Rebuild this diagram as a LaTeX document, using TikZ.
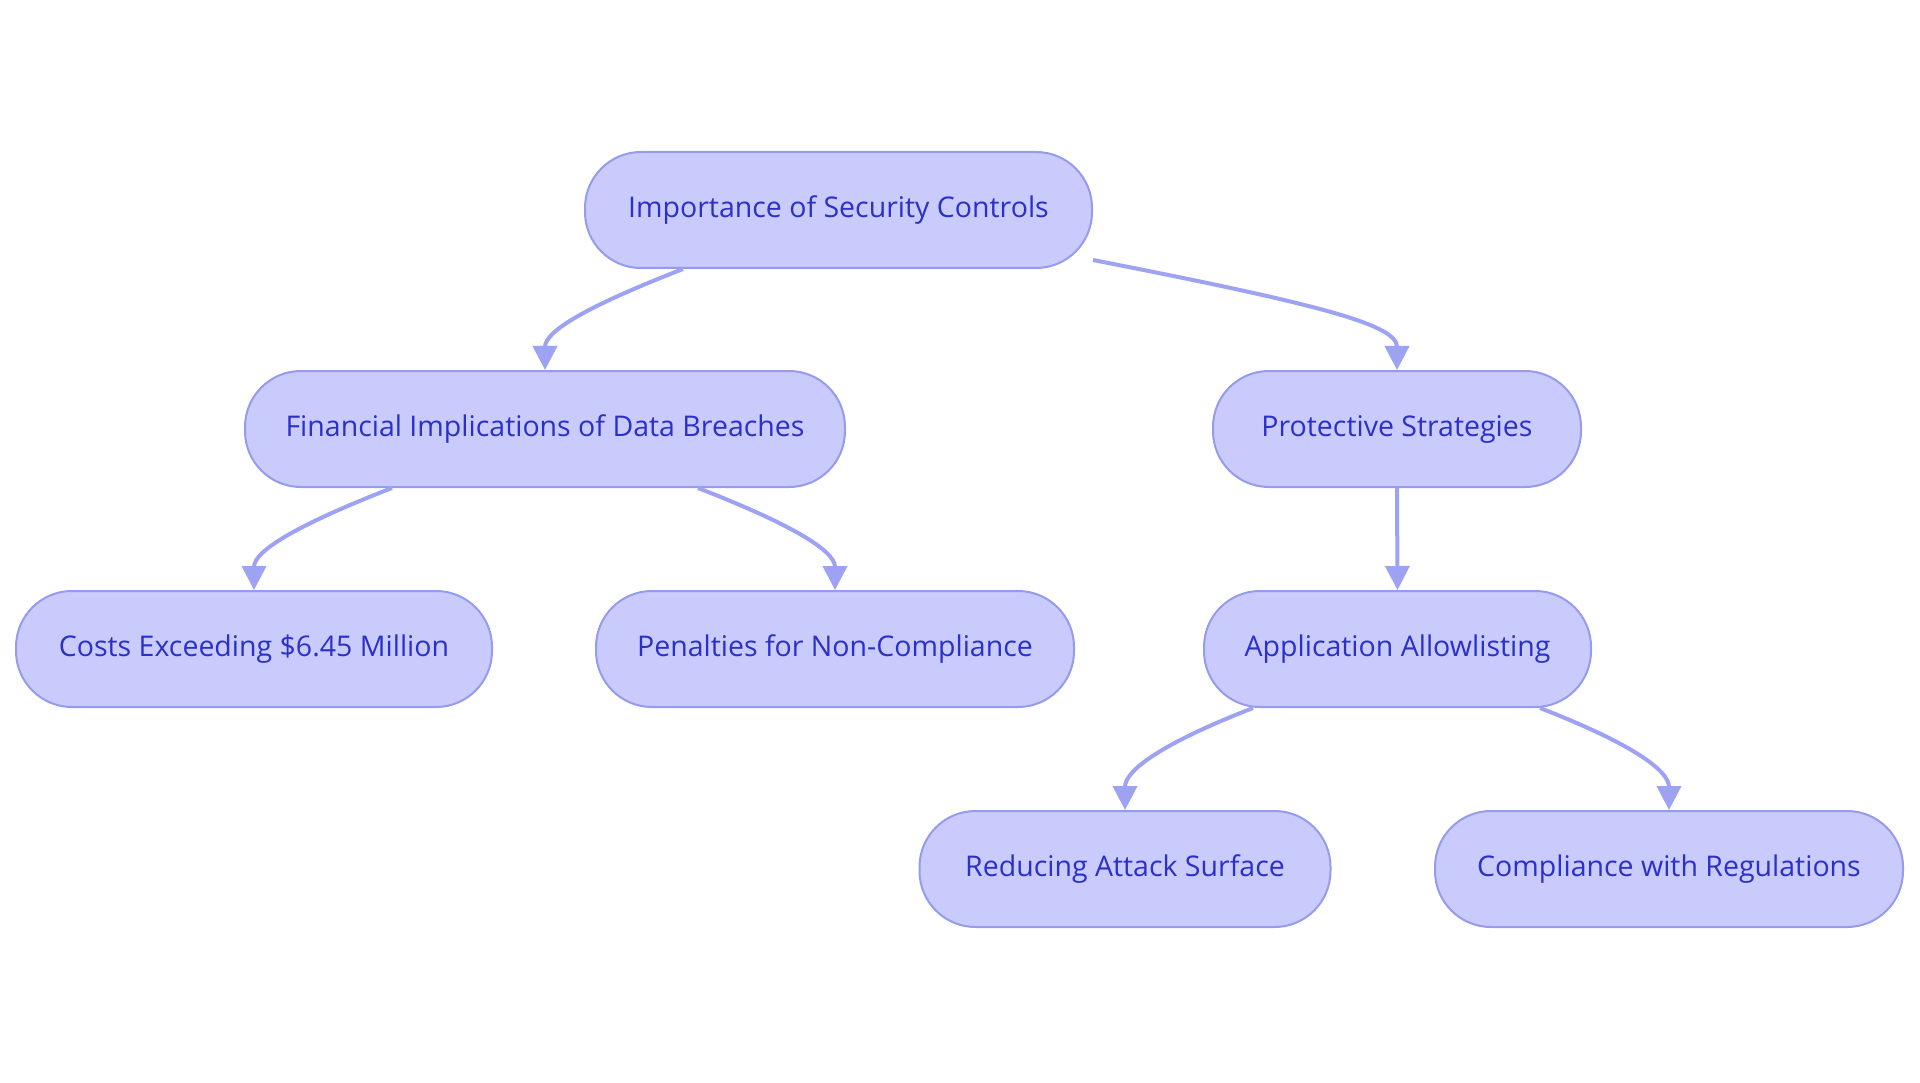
\documentclass[tikz,border=0pt]{standalone}
\usepackage{fontspec}
\setmainfont{Open Sans}
\usetikzlibrary{arrows.meta}
\definecolor{nodefill}{RGB}{200,203,252}
\definecolor{nodeborder}{RGB}{150,155,238}
\definecolor{nodetext}{RGB}{43,48,200}
\definecolor{edgecol}{RGB}{158,162,242}
\begin{document}
\begin{tikzpicture}[x=1pt,y=-1pt,
  pill/.style={draw=nodeborder, line width=2pt, fill=nodefill, rounded corners=56pt,
    minimum height=116pt, text=nodetext, font=\fontsize{28.5}{33}\selectfont, inner sep=0pt},
  link/.style={draw=edgecol, line width=4pt, -{Triangle[length=24pt,width=24pt]}}]
\useasboundingbox[fill=white] (0,0) rectangle (1920,1083);
\node[pill, minimum width=507pt] (root) at (838.5,210) {Importance of Security Controls};
\node[pill, minimum width=600pt] (fin) at (545,429) {Financial Implications of Data Breaches};
\node[pill, minimum width=368pt] (prot) at (1397,429) {Protective Strategies};
\node[pill, minimum width=476pt] (cost) at (254,649) {Costs Exceeding \$6.45 Million};
\node[pill, minimum width=478pt] (pen) at (835,649) {Penalties for Non-Compliance};
\node[pill, minimum width=387pt] (app) at (1397.5,649) {Application Allowlisting};
\node[pill, minimum width=411pt] (red) at (1125,869) {Reducing Attack Surface};
\node[pill, minimum width=468pt] (comp) at (1669,869) {Compliance with Regulations};
\draw[link] ([xshift=-155.5pt]root.south) .. controls +(-90,35) and +(0,-40) .. (fin.north);
\draw[link] ([yshift=-50pt]root.east) .. controls +(230,45) and +(0,-45) .. (prot.north);
\draw[link] ([xshift=-153pt]fin.south) .. controls +(-90,35) and +(0,-40) .. (cost.north);
\draw[link] ([xshift=153pt]fin.south) .. controls +(90,35) and +(0,-40) .. (pen.north);
\draw[link] (prot.south) -- (app.north);
\draw[link] ([xshift=-144.5pt]app.south) .. controls +(-90,35) and +(0,-40) .. (red.north);
\draw[link] ([xshift=142.5pt]app.south) .. controls +(90,35) and +(0,-40) .. (comp.north);
\end{tikzpicture}
\end{document}
